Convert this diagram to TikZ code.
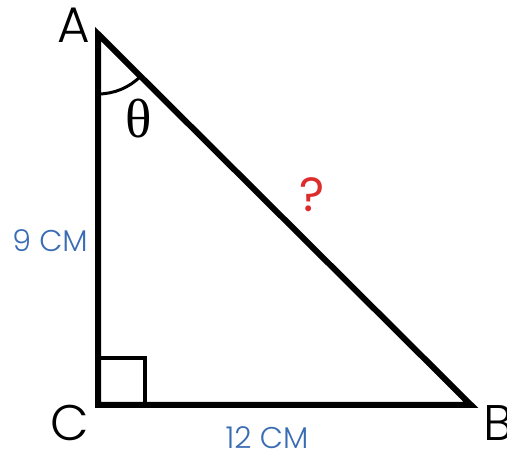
\documentclass[tikz,border=0pt]{standalone}
\usepackage{fontspec}
\setmainfont{Poppins Light}
\newfontfamily\thetafont{Liberation Serif}
\newfontfamily\qfont{Poppins}
\definecolor{lblblue}{RGB}{58,108,180}
\definecolor{qred}{RGB}{220,45,45}
\tikzset{
  side/.style={line width=6pt, line join=miter, line cap=butt},
  vlabel/.style={inner sep=0pt, font=\fontsize{50}{50}\selectfont},
  mlabel/.style={inner sep=0pt, text=lblblue, font=\fontsize{30}{30}\selectfont},
}
\begin{document}
\begin{tikzpicture}[x=1pt,y=1pt]
\useasboundingbox (0,0) rectangle (507,454);
\coordinate (A) at (98,420);
\coordinate (C) at (98,49);
\coordinate (B) at (471,49);
\draw[side] (A) -- (C) -- (B) -- cycle;
\draw[line width=4pt] ([yshift=47pt]C) -| ([xshift=47pt]C);
\draw[line width=3pt] (A) ++(270:60) arc[start angle=270, end angle=315, radius=60];
\node[vlabel] (la) at (74,429) {A};
\node[vlabel] (lc) at (70,31) {C};
\node[vlabel] (lb) at (498,31) {B};
\node[inner sep=0pt, font=\thetafont\fontsize{55}{55}\selectfont] (th) at (139,335) {θ};
\node[mlabel] (l9) at (50,213) {9 CM};
\node[mlabel] (l12) at (267,16) {12 CM};
\node[inner sep=0pt, text=qred, font=\qfont\fontsize{48}{48}\selectfont] (q) at (312,259) {?};
\end{tikzpicture}
\end{document}
